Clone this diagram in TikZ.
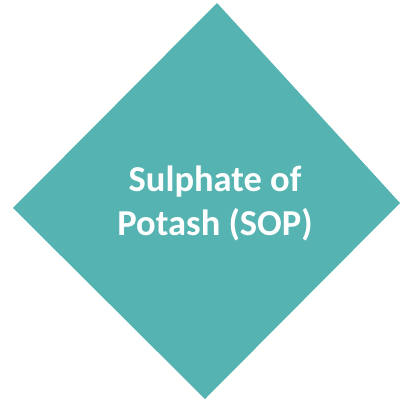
\documentclass[tikz,border=0pt]{standalone}
\usepackage{fontspec}
\setmainfont{Carlito}
\definecolor{sopteal}{HTML}{55B3B1}
\begin{document}
\begin{tikzpicture}[x=1pt,y=-1pt]
 \useasboundingbox (0,0) rectangle (400,401); %枠
 \fill[sopteal] (217,3)--(400,203)--(205,399)--(13,208)--cycle; %ひし形
 \node[text=white,font=\bfseries\fontsize{36.5}{44}\selectfont,align=center] (sop) at (215,203) {Sulphate of\\Potash (SOP)}; %文字
\end{tikzpicture}
\end{document}
